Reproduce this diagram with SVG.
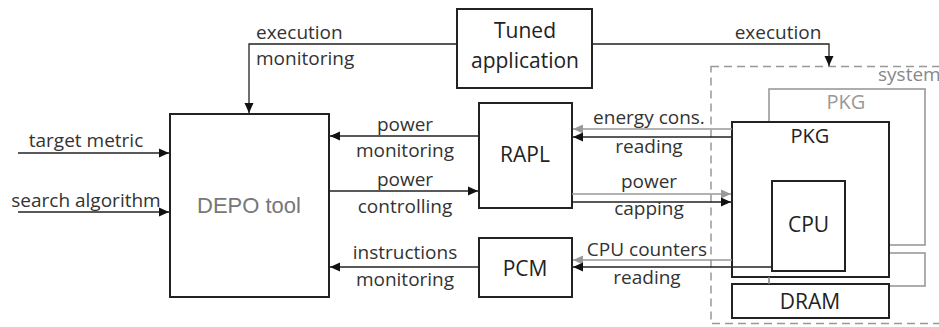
<svg xmlns="http://www.w3.org/2000/svg" width="939" height="327" viewBox="0 0 939 327">
<defs>
<marker id="ab" viewBox="0 0 10 10" refX="10" refY="5" markerWidth="10" markerHeight="10" markerUnits="userSpaceOnUse" orient="auto"><path d="M0,0.5 L10,5 L0,9.5 z" fill="#111"/></marker>
<marker id="ag" viewBox="0 0 10 10" refX="10" refY="5" markerWidth="10" markerHeight="10" markerUnits="userSpaceOnUse" orient="auto"><path d="M0,0.5 L10,5 L0,9.5 z" fill="#999"/></marker>
<style>
.box{fill:#fff;stroke:#222;stroke-width:2}
.gbox{fill:none;stroke:#999;stroke-width:1.6}
.c{fill:none;stroke:#222;stroke-width:1.3}
.g{fill:none;stroke:#999;stroke-width:1.3}
.lbl{font-family:"Open Sans","DejaVu Sans",sans-serif;font-size:19px;fill:#333;text-anchor:middle}
.nt{font-family:"Open Sans","DejaVu Sans",sans-serif;font-size:21px;fill:#222;text-anchor:middle}
</style>
</defs>
<rect width="939" height="327" fill="#fff"/>
<g id="system">
<rect x="711" y="66.5" width="240" height="257" fill="none" stroke="#999" stroke-width="1.5" stroke-dasharray="8,5"/>
<text x="878" y="81" class="lbl" style="text-anchor:start;fill:#888">system</text>
</g>
<g id="pkg-gray">
<rect class="gbox" x="769" y="89" width="156" height="156"/>
<text x="846" y="109" class="lbl" style="font-size:20px;fill:#999">PKG</text>
</g>
<g id="dram-gray">
<rect class="gbox" x="769" y="253" width="156" height="33"/>
</g>
<g id="pkg">
<rect class="box" x="732" y="122" width="157" height="155"/>
<text x="810" y="143" class="lbl" style="font-size:20px;fill:#222">PKG</text>
</g>
<g id="cpu">
<rect class="box" x="772" y="181" width="73" height="90"/>
<text x="808.5" y="232" class="nt">CPU</text>
</g>
<g id="dram">
<rect class="box" x="732" y="284" width="157" height="34"/>
<text x="810" y="309" class="nt">DRAM</text>
</g>
<g id="depo">
<rect class="box" x="170" y="114" width="159" height="183"/>
<text x="249" y="213" style="font-family:'Liberation Sans',Arial,sans-serif;font-size:22px;fill:#777;text-anchor:middle">DEPO tool</text>
</g>
<g id="tuned">
<rect class="box" x="457" y="9" width="135" height="79"/>
<text x="525" y="38" class="nt">Tuned</text>
<text x="525" y="68" class="nt">application</text>
</g>
<g id="rapl">
<rect class="box" x="479" y="103" width="93" height="105"/>
<text x="525" y="162" class="nt">RAPL</text>
</g>
<g id="pcm">
<rect class="box" x="479" y="238" width="93" height="59"/>
<text x="525" y="276" class="nt">PCM</text>
</g>
<g id="connectors">
<path class="c" d="M457,44 H249 V113" marker-end="url(#ab)"/>
<path class="c" d="M592,44 H829 V66" marker-end="url(#ab)"/>
<path class="c" d="M18,153 H169" marker-end="url(#ab)"/>
<path class="c" d="M18,212 H169" marker-end="url(#ab)"/>
<path class="c" d="M479,136 H330" marker-end="url(#ab)"/>
<path class="c" d="M329,191 H478" marker-end="url(#ab)"/>
<path class="c" d="M479,267 H330" marker-end="url(#ab)"/>
<path class="g" d="M732,129 H573" marker-end="url(#ag)"/>
<path class="c" d="M732,137 H573" marker-end="url(#ab)"/>
<path class="g" d="M572,194 H731" marker-end="url(#ag)"/>
<path class="c" d="M572,202 H731" marker-end="url(#ab)"/>
<path class="g" d="M732,260 H573" marker-end="url(#ag)"/>
<path class="c" d="M772,267 H573" marker-end="url(#ab)"/>
<path class="g" d="M769,277 V284"/>
<text x="256" y="39" class="lbl" style="text-anchor:start">execution</text>
<text x="256" y="65" class="lbl" style="text-anchor:start">monitoring</text>
<text x="778" y="39" class="lbl">execution</text>
<text x="86" y="147" class="lbl">target metric</text>
<text x="86" y="207" class="lbl">search algorithm</text>
<text x="405" y="131" class="lbl">power</text>
<text x="405" y="157" class="lbl">monitoring</text>
<text x="405" y="186" class="lbl">power</text>
<text x="405" y="213" class="lbl">controlling</text>
<text x="405" y="259" class="lbl">instructions</text>
<text x="405" y="286" class="lbl">monitoring</text>
<text x="649" y="124" class="lbl">energy cons.</text>
<text x="649" y="153" class="lbl">reading</text>
<text x="649" y="188" class="lbl">power</text>
<text x="649" y="215" class="lbl">capping</text>
<text x="647" y="256" class="lbl">CPU counters</text>
<text x="647" y="284" class="lbl">reading</text>
</g>
</svg>
